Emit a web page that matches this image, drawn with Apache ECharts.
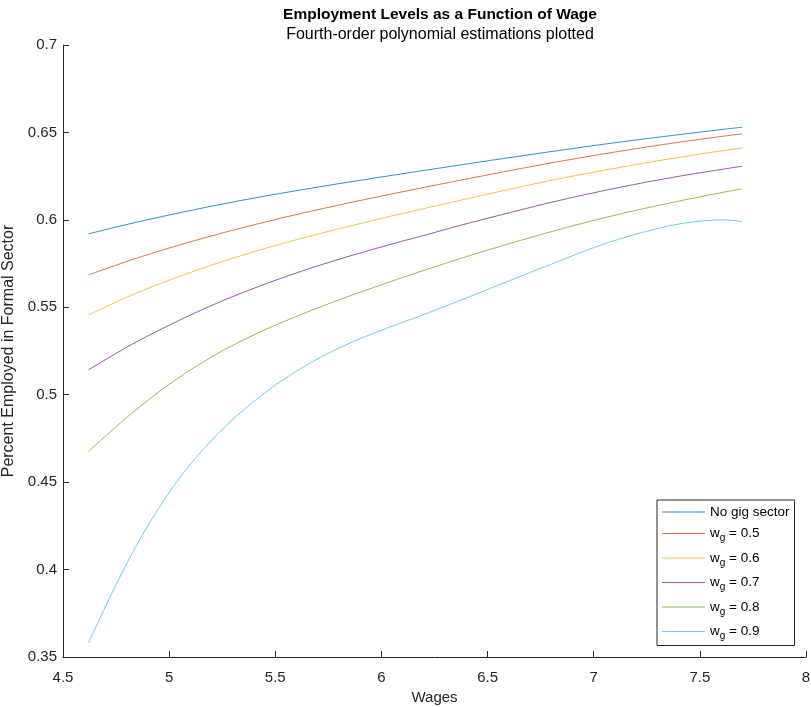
<!DOCTYPE html>
<html>
<head>
<meta charset="utf-8">
<script src="https://cdn.jsdelivr.net/npm/echarts@6/dist/echarts.min.js"></script>
<style>
  html, body { margin: 0; padding: 0; background: #fff; }
  #chart { width: 811px; height: 707px; }
</style>
</head>
<body>
<div id="chart"></div>
<script>
// wage values (x) shared by every curve
var wages = [4.62, 4.82, 5.02, 5.22, 5.42, 5.62, 5.82, 6.02, 6.22, 6.42, 6.62, 6.82, 7.02, 7.22, 7.42, 7.62, 7.7]

// employment share, one list per curve
var noGig = [0.592, 0.5979, 0.6033, 0.6083, 0.6129, 0.6171, 0.6211, 0.6249, 0.6286, 0.6323, 0.6359, 0.6394, 0.6428, 0.646, 0.649, 0.6519, 0.653]
var wg05 = [0.5685, 0.577, 0.5846, 0.5915, 0.5978, 0.6036, 0.609, 0.6141, 0.619, 0.6238, 0.6285, 0.633, 0.6372, 0.6411, 0.6447, 0.648, 0.6492]
var wg06 = [0.5456, 0.5568, 0.5664, 0.5749, 0.5825, 0.5893, 0.5955, 0.6014, 0.607, 0.6125, 0.6179, 0.6231, 0.6277, 0.6321, 0.6361, 0.6398, 0.6411]
var wg07 = [0.5142, 0.5285, 0.5409, 0.5521, 0.5618, 0.5705, 0.5782, 0.5852, 0.5918, 0.5984, 0.6046, 0.6106, 0.616, 0.6209, 0.6253, 0.6292, 0.6307]
var wg08 = [0.4675, 0.489, 0.5076, 0.523, 0.5354, 0.5458, 0.5551, 0.5637, 0.5719, 0.5797, 0.587, 0.5939, 0.6003, 0.606, 0.6112, 0.616, 0.6177]
var wg09 = [0.358, 0.408, 0.4475, 0.4765, 0.4982, 0.515, 0.5278, 0.5378, 0.5468, 0.5563, 0.566, 0.5756, 0.585, 0.5925, 0.598, 0.6, 0.5988]

var seriesNames = ['No gig sector', 'w_g = 0.5', 'w_g = 0.6', 'w_g = 0.7', 'w_g = 0.8', 'w_g = 0.9']
var seriesData = [noGig, wg05, wg06, wg07, wg08, wg09]
var colors = ['#0072BD', '#D95319', '#EDB120', '#7E2F8E', '#77AC30', '#4DBEEE']

var axisColor = '#262626'
var font = 'Liberation Sans, Arial, sans-serif'

var myChart = echarts.init(document.getElementById('chart'))

myChart.setOption({
  animation: false,
  color: colors,
  title: [
    {
      text: 'Employment Levels as a Function of Wage',
      left: 435,
      top: 2,
      textAlign: 'center',
      textStyle: { fontFamily: font, fontSize: 15.5, fontWeight: 'bold', color: '#000' }
    },
    {
      text: 'Fourth-order polynomial estimations plotted',
      left: 435,
      top: 22,
      textAlign: 'center',
      textStyle: { fontFamily: font, fontSize: 16, fontWeight: 'normal', color: '#000' }
    }
  ],
  grid: { left: 63, right: 5, top: 45, bottom: 50, outerBoundsMode: 'none' },
  legend: {
    orient: 'vertical',
    left: 657,
    top: 500,
    padding: [5, 5, 4, 5],
    itemGap: 7.5,
    itemWidth: 43,
    itemHeight: 1,
    icon: 'rect',
    backgroundColor: '#fff',
    borderColor: axisColor,
    borderWidth: 1,
    borderRadius: 0,
    data: seriesNames,
    itemStyle: { opacity: 0.8 },
    formatter: function (name) {
      if (name.indexOf('w_g') === 0) {
        return 'w{sub|g}' + name.slice(3)
      }
      return name
    },
    textStyle: {
      fontFamily: font,
      fontSize: 13.5,
      color: '#000',
      rich: {
        sub: { fontFamily: font, fontSize: 10, color: '#000', padding: [10, 0, 0, 0] }
      }
    }
  },
  xAxis: {
    type: 'value',
    min: 4.5,
    max: 8,
    interval: 0.5,
    name: 'Wages',
    nameLocation: 'middle',
    nameGap: 31,
    nameTextStyle: { fontFamily: font, fontSize: 15, color: axisColor },
    axisLine: { show: true, onZero: false, lineStyle: { color: axisColor, width: 1 } },
    axisTick: { show: true, inside: true, length: 6, lineStyle: { color: axisColor } },
    axisLabel: { margin: 13, fontFamily: font, fontSize: 15, color: axisColor },
    splitLine: { show: false }
  },
  yAxis: {
    type: 'value',
    min: 0.35,
    max: 0.7,
    interval: 0.05,
    name: 'Percent Employed in Formal Sector',
    nameLocation: 'middle',
    nameGap: 43,
    nameTextStyle: { fontFamily: font, fontSize: 16, color: axisColor },
    axisLine: { show: true, onZero: false, lineStyle: { color: axisColor, width: 1 } },
    axisTick: { show: true, inside: true, length: 6, lineStyle: { color: axisColor } },
    axisLabel: {
      margin: 6,
      fontFamily: font,
      fontSize: 15,
      color: axisColor,
      formatter: function (v) { return String(+v.toFixed(2)) }
    },
    splitLine: { show: false }
  },
  series: seriesNames.map(function (name, i) {
    return {
      name: name,
      type: 'line',
      smooth: 0.35,
      symbol: 'none',
      lineStyle: { width: 1, color: colors[i], opacity: 0.8 },
      data: wages.map(function (w, j) { return [w, seriesData[i][j]] })
    }
  })
})
</script>
</body>
</html>
